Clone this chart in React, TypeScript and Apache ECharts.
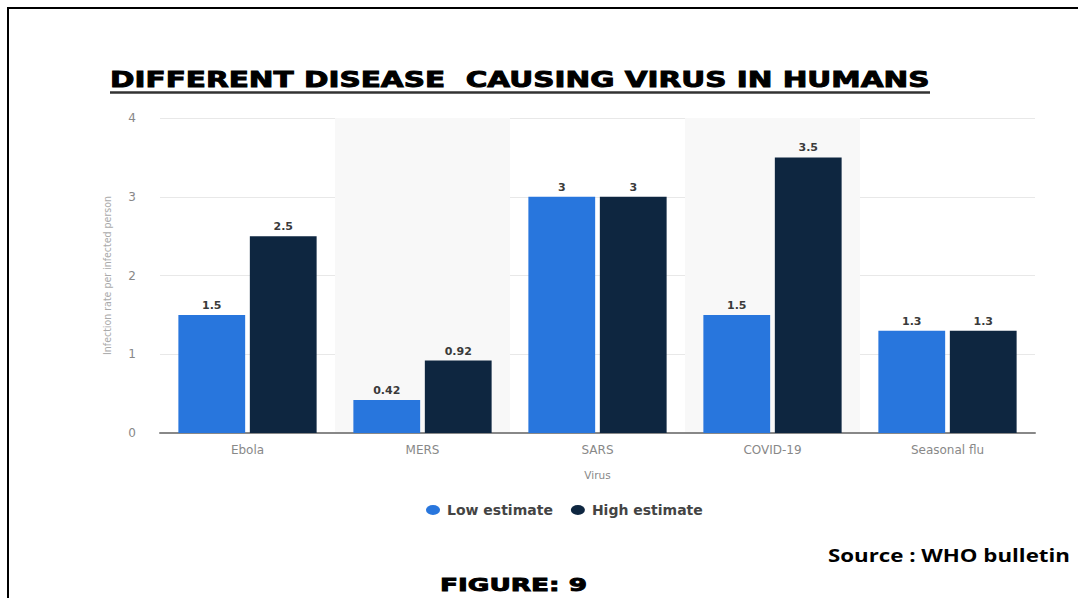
import React, { useEffect, useRef } from "react";
import * as echarts from "echarts";

const categories = ["Ebola", "MERS", "SARS", "COVID-19", "Seasonal flu"];
const lowEstimate = [1.5, 0.42, 3, 1.5, 1.3];
const highEstimate = [2.5, 0.92, 3, 3.5, 1.3];
const yTicks = [0, 1, 2, 3, 4];

function measure(text: string, font: string): number {
  const c = document.createElement("canvas");
  const ctx = c.getContext("2d");
  if (!ctx) return 1;
  ctx.font = font;
  return ctx.measureText(text).width || 1;
}

export default function App() {
  const ref = useRef<HTMLDivElement>(null);
  useEffect(() => {
    if (!ref.current) return;
    const chart = echarts.init(ref.current, undefined, { renderer: "svg" });

    const titleText = "DIFFERENT DISEASE  CAUSING VIRUS IN HUMANS";
    const titleFam = "DejaVu Sans";
    const titleSize = 21;
    const titleW = measure(titleText, `bold ${titleSize}px "${titleFam}"`);
    const figText = "FIGURE: 9";
    const figSize = 18.5;
    const figW = measure(figText, `bold ${figSize}px "DejaVu Sans"`);
    const srcText = "Source : WHO bulletin";
    const srcSize = 17.5;
    const srcW = measure(srcText, `bold ${srcSize}px "Open Sans"`);

    const labelStyle = {
      show: true,
      position: "top",
      color: "#3a3a3a",
      fontSize: 11,
      fontWeight: "bold",
      fontFamily: "DejaVu Sans",
      distance: 4,
    };
    chart.setOption({
      animation: false,
      backgroundColor: "#ffffff",
      graphic: [
        {
          type: "polyline",
          shape: { points: [[8, 598], [8, 8], [1078, 8]] },
          style: { stroke: "#000", lineWidth: 2, fill: "none" },
        },
        {
          type: "text",
          x: 110,
          y: 80,
          scaleX: 820 / titleW,
          style: {
            text: titleText,
            textAlign: "left",
            textVerticalAlign: "middle",
            fontFamily: titleFam,
            fontWeight: "bold",
            fontSize: titleSize,
            fill: "#000",
            stroke: "#000",
            lineWidth: 0.9,
          },
        },
        {
          type: "line",
          shape: { x1: 110, y1: 92.5, x2: 930, y2: 92.5 },
          style: { stroke: "#333", lineWidth: 2.5 },
        },
        {
          type: "text",
          x: 828,
          y: 555,
          scaleX: 242 / srcW,
          style: {
            text: srcText,
            textAlign: "left",
            textVerticalAlign: "middle",
            fontFamily: "Open Sans",
            fontWeight: "bold",
            fontSize: srcSize,
            fill: "#000",
          },
        },
        {
          type: "text",
          x: 440,
          y: 584,
          scaleX: 147 / figW,
          style: {
            text: figText,
            textAlign: "left",
            textVerticalAlign: "middle",
            fontFamily: "DejaVu Sans",
            fontWeight: "bold",
            fontSize: figSize,
            fill: "#000",
            stroke: "#000",
            lineWidth: 0.9,
          },
        },
      ],
      legend: {
        data: ["Low estimate", "High estimate"],
        left: 421,
        top: 498,
        icon: "path://M0,5a7,5 0 1,0 14,0a7,5 0 1,0 -14,0z",
        itemWidth: 14,
        itemHeight: 11,
        itemGap: 18,
        textStyle: {
          fontFamily: "DejaVu Sans",
          fontWeight: "bold",
          fontSize: 14,
          color: "#444",
          padding: [0, 0, 0, 2],
        },
      },
      grid: { left: 160, right: 43, top: 118, bottom: 165 },
      xAxis: {
        type: "category",
        data: categories,
        name: "Virus",
        nameLocation: "middle",
        nameGap: 36,
        nameTextStyle: { color: "#888", fontSize: 10.5, fontFamily: "DejaVu Sans" },
        axisLine: { show: true, lineStyle: { color: "#888", width: 2 } },
        axisTick: { show: false },
        axisLabel: { color: "#888", fontSize: 12, margin: 11, fontFamily: "DejaVu Sans" },
        splitArea: {
          show: true,
          areaStyle: { color: ["rgba(255,255,255,0)", "#f8f8f8"] },
        },
      },
      yAxis: {
        type: "value",
        min: yTicks[0],
        max: yTicks[yTicks.length - 1],
        interval: 1,
        name: "Infection rate per infected person",
        nameLocation: "middle",
        nameGap: 48,
        nameTextStyle: { color: "#aaa", fontSize: 10.5, fontFamily: "DejaVu Sans Condensed, DejaVu Sans" },
        axisLine: { show: false },
        axisTick: { show: false },
        axisLabel: { color: "#888", fontSize: 12, margin: 24, fontFamily: "DejaVu Sans" },
        splitLine: { lineStyle: { color: "#e8e8e8", width: 1 } },
      },
      series: [
        {
          name: "Low estimate",
          type: "bar",
          data: lowEstimate,
          itemStyle: { color: "#2876dd" },
          barGap: "7%",
          barCategoryGap: "21%",
          label: labelStyle,
        },
        {
          name: "High estimate",
          type: "bar",
          data: highEstimate,
          itemStyle: { color: "#0e2640" },
          label: labelStyle,
        },
      ],
    });
    return () => chart.dispose();
  }, []);
  return (
    <div
      ref={ref}
      style={{ position: "fixed", left: 0, top: 0, width: 1078, height: 598 }}
    />
  );
}
